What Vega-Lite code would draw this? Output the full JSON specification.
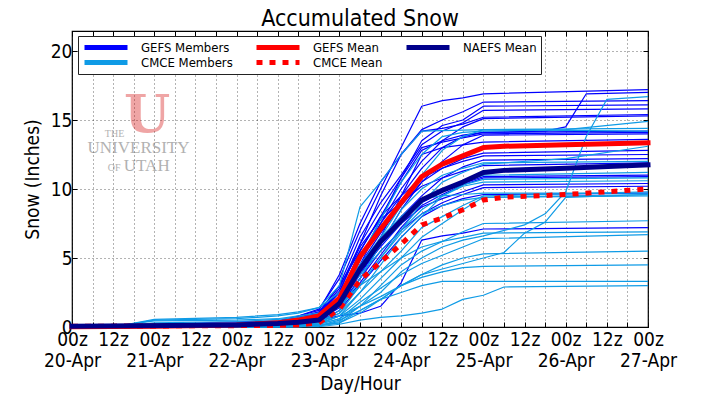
{
"$schema":"https://vega.github.io/schema/vega-lite/v6.json",
"width":576,"height":296,
"autosize":{"type":"none"},
"padding":{"left":72,"top":31,"right":58,"bottom":70},
"background":"white",
"title":{"text":"Accumulated Snow","fontSize":23,"fontWeight":"normal","color":"black","offset":0,"anchor":"middle"},
"config":{
 "font":"DejaVu Sans Condensed, DejaVu Sans",
 "view":{"stroke":"black","strokeWidth":1.2},
 "axis":{"labelFontSize":19,"titleFontSize":19,"titleFontWeight":"normal","labelColor":"black","titleColor":"black","tickColor":"black","tickSize":-5,"domain":false,"gridColor":"black","gridDash":[1,3],"gridOpacity":0.6,"labelPadding":5}
},
"datasets":{
"logo":[{"h":21.9,"v":14.1,"t":"U"},{"h":12.4,"v":13.8,"t":"THE"},{"h":19.4,"v":12.6,"t":"UNIVERSITY"},{"h":12.3,"v":11.3,"t":"OF"},{"h":21.8,"v":11.3,"t":"UTAH"}],
"d":[
{"s":"g01","k":"GEFS Members","h":0,"v":0},{"s":"g01","k":"GEFS Members","h":60,"v":0.4},{"s":"g01","k":"GEFS Members","h":66,"v":0.8},{"s":"g01","k":"GEFS Members","h":72,"v":1.3},{"s":"g01","k":"GEFS Members","h":78,"v":3.5},{"s":"g01","k":"GEFS Members","h":84,"v":7.0},{"s":"g01","k":"GEFS Members","h":90,"v":10.0},{"s":"g01","k":"GEFS Members","h":96,"v":13.0},{"s":"g01","k":"GEFS Members","h":102,"v":16.0},{"s":"g01","k":"GEFS Members","h":108,"v":16.4},{"s":"g01","k":"GEFS Members","h":114,"v":16.6},{"s":"g01","k":"GEFS Members","h":120,"v":16.9},{"s":"g01","k":"GEFS Members","h":168,"v":17.2},
{"s":"g02","k":"GEFS Members","h":0,"v":0},{"s":"g02","k":"GEFS Members","h":60,"v":0.35},{"s":"g02","k":"GEFS Members","h":66,"v":0.6},{"s":"g02","k":"GEFS Members","h":72,"v":1.0},{"s":"g02","k":"GEFS Members","h":78,"v":3.0},{"s":"g02","k":"GEFS Members","h":84,"v":5.5},{"s":"g02","k":"GEFS Members","h":90,"v":8.0},{"s":"g02","k":"GEFS Members","h":96,"v":10.5},{"s":"g02","k":"GEFS Members","h":102,"v":12.8},{"s":"g02","k":"GEFS Members","h":108,"v":13.5},{"s":"g02","k":"GEFS Members","h":114,"v":13.9},{"s":"g02","k":"GEFS Members","h":120,"v":14.1},{"s":"g02","k":"GEFS Members","h":138,"v":14.2},{"s":"g02","k":"GEFS Members","h":144,"v":14.5},{"s":"g02","k":"GEFS Members","h":150,"v":16.9},{"s":"g02","k":"GEFS Members","h":168,"v":17.0},
{"s":"g03","k":"GEFS Members","h":0,"v":0},{"s":"g03","k":"GEFS Members","h":60,"v":0.3},{"s":"g03","k":"GEFS Members","h":66,"v":0.55},{"s":"g03","k":"GEFS Members","h":72,"v":0.9},{"s":"g03","k":"GEFS Members","h":78,"v":2.5},{"s":"g03","k":"GEFS Members","h":84,"v":6.0},{"s":"g03","k":"GEFS Members","h":90,"v":9.5},{"s":"g03","k":"GEFS Members","h":96,"v":12.5},{"s":"g03","k":"GEFS Members","h":102,"v":14.3},{"s":"g03","k":"GEFS Members","h":108,"v":15.0},{"s":"g03","k":"GEFS Members","h":114,"v":15.6},{"s":"g03","k":"GEFS Members","h":120,"v":16.3},{"s":"g03","k":"GEFS Members","h":168,"v":16.4},
{"s":"g04","k":"GEFS Members","h":0,"v":0},{"s":"g04","k":"GEFS Members","h":60,"v":0.25},{"s":"g04","k":"GEFS Members","h":66,"v":0.5},{"s":"g04","k":"GEFS Members","h":72,"v":0.8},{"s":"g04","k":"GEFS Members","h":78,"v":2.2},{"s":"g04","k":"GEFS Members","h":84,"v":4.8},{"s":"g04","k":"GEFS Members","h":90,"v":7.8},{"s":"g04","k":"GEFS Members","h":96,"v":10.8},{"s":"g04","k":"GEFS Members","h":102,"v":13.5},{"s":"g04","k":"GEFS Members","h":108,"v":14.6},{"s":"g04","k":"GEFS Members","h":114,"v":15.0},{"s":"g04","k":"GEFS Members","h":120,"v":16.0},{"s":"g04","k":"GEFS Members","h":168,"v":16.1},
{"s":"g05","k":"GEFS Members","h":0,"v":0},{"s":"g05","k":"GEFS Members","h":60,"v":0.4},{"s":"g05","k":"GEFS Members","h":66,"v":0.7},{"s":"g05","k":"GEFS Members","h":72,"v":1.1},{"s":"g05","k":"GEFS Members","h":78,"v":3.0},{"s":"g05","k":"GEFS Members","h":84,"v":6.5},{"s":"g05","k":"GEFS Members","h":90,"v":9.0},{"s":"g05","k":"GEFS Members","h":96,"v":11.0},{"s":"g05","k":"GEFS Members","h":102,"v":13.2},{"s":"g05","k":"GEFS Members","h":108,"v":14.2},{"s":"g05","k":"GEFS Members","h":114,"v":14.8},{"s":"g05","k":"GEFS Members","h":120,"v":15.7},{"s":"g05","k":"GEFS Members","h":168,"v":15.8},
{"s":"g06","k":"GEFS Members","h":0,"v":0},{"s":"g06","k":"GEFS Members","h":60,"v":0.25},{"s":"g06","k":"GEFS Members","h":66,"v":0.45},{"s":"g06","k":"GEFS Members","h":72,"v":0.7},{"s":"g06","k":"GEFS Members","h":78,"v":2.0},{"s":"g06","k":"GEFS Members","h":84,"v":4.5},{"s":"g06","k":"GEFS Members","h":90,"v":7.5},{"s":"g06","k":"GEFS Members","h":96,"v":10.0},{"s":"g06","k":"GEFS Members","h":102,"v":12.0},{"s":"g06","k":"GEFS Members","h":108,"v":13.5},{"s":"g06","k":"GEFS Members","h":114,"v":14.5},{"s":"g06","k":"GEFS Members","h":120,"v":15.1},{"s":"g06","k":"GEFS Members","h":168,"v":15.3},
{"s":"g07","k":"GEFS Members","h":0,"v":0},{"s":"g07","k":"GEFS Members","h":60,"v":0.45},{"s":"g07","k":"GEFS Members","h":66,"v":0.8},{"s":"g07","k":"GEFS Members","h":72,"v":1.2},{"s":"g07","k":"GEFS Members","h":78,"v":3.8},{"s":"g07","k":"GEFS Members","h":84,"v":7.5},{"s":"g07","k":"GEFS Members","h":90,"v":10.5},{"s":"g07","k":"GEFS Members","h":96,"v":12.5},{"s":"g07","k":"GEFS Members","h":102,"v":14.2},{"s":"g07","k":"GEFS Members","h":108,"v":14.4},{"s":"g07","k":"GEFS Members","h":114,"v":14.7},{"s":"g07","k":"GEFS Members","h":120,"v":15.2},{"s":"g07","k":"GEFS Members","h":168,"v":15.4},
{"s":"g08","k":"GEFS Members","h":0,"v":0},{"s":"g08","k":"GEFS Members","h":60,"v":0.2},{"s":"g08","k":"GEFS Members","h":66,"v":0.4},{"s":"g08","k":"GEFS Members","h":72,"v":0.6},{"s":"g08","k":"GEFS Members","h":78,"v":1.8},{"s":"g08","k":"GEFS Members","h":84,"v":4.0},{"s":"g08","k":"GEFS Members","h":90,"v":6.5},{"s":"g08","k":"GEFS Members","h":96,"v":9.5},{"s":"g08","k":"GEFS Members","h":102,"v":11.5},{"s":"g08","k":"GEFS Members","h":108,"v":13.0},{"s":"g08","k":"GEFS Members","h":114,"v":13.8},{"s":"g08","k":"GEFS Members","h":120,"v":14.1},{"s":"g08","k":"GEFS Members","h":168,"v":14.2},
{"s":"g09","k":"GEFS Members","h":0,"v":0},{"s":"g09","k":"GEFS Members","h":60,"v":0.3},{"s":"g09","k":"GEFS Members","h":66,"v":0.6},{"s":"g09","k":"GEFS Members","h":72,"v":0.9},{"s":"g09","k":"GEFS Members","h":78,"v":2.8},{"s":"g09","k":"GEFS Members","h":84,"v":6.0},{"s":"g09","k":"GEFS Members","h":90,"v":8.5},{"s":"g09","k":"GEFS Members","h":96,"v":10.8},{"s":"g09","k":"GEFS Members","h":102,"v":13.0},{"s":"g09","k":"GEFS Members","h":108,"v":13.4},{"s":"g09","k":"GEFS Members","h":114,"v":13.7},{"s":"g09","k":"GEFS Members","h":120,"v":14.0},{"s":"g09","k":"GEFS Members","h":168,"v":14.1},
{"s":"g10","k":"GEFS Members","h":0,"v":0},{"s":"g10","k":"GEFS Members","h":60,"v":0.2},{"s":"g10","k":"GEFS Members","h":66,"v":0.35},{"s":"g10","k":"GEFS Members","h":72,"v":0.5},{"s":"g10","k":"GEFS Members","h":78,"v":1.5},{"s":"g10","k":"GEFS Members","h":84,"v":3.5},{"s":"g10","k":"GEFS Members","h":90,"v":6.0},{"s":"g10","k":"GEFS Members","h":96,"v":8.5},{"s":"g10","k":"GEFS Members","h":102,"v":10.5},{"s":"g10","k":"GEFS Members","h":108,"v":12.0},{"s":"g10","k":"GEFS Members","h":114,"v":13.2},{"s":"g10","k":"GEFS Members","h":120,"v":13.9},{"s":"g10","k":"GEFS Members","h":168,"v":14.0},
{"s":"g11","k":"GEFS Members","h":0,"v":0},{"s":"g11","k":"GEFS Members","h":60,"v":0.35},{"s":"g11","k":"GEFS Members","h":66,"v":0.65},{"s":"g11","k":"GEFS Members","h":72,"v":1.0},{"s":"g11","k":"GEFS Members","h":78,"v":2.5},{"s":"g11","k":"GEFS Members","h":84,"v":5.0},{"s":"g11","k":"GEFS Members","h":90,"v":7.5},{"s":"g11","k":"GEFS Members","h":96,"v":9.5},{"s":"g11","k":"GEFS Members","h":102,"v":12.5},{"s":"g11","k":"GEFS Members","h":108,"v":13.0},{"s":"g11","k":"GEFS Members","h":114,"v":13.2},{"s":"g11","k":"GEFS Members","h":120,"v":13.4},{"s":"g11","k":"GEFS Members","h":168,"v":13.6},
{"s":"g12","k":"GEFS Members","h":0,"v":0},{"s":"g12","k":"GEFS Members","h":60,"v":0.3},{"s":"g12","k":"GEFS Members","h":66,"v":0.5},{"s":"g12","k":"GEFS Members","h":72,"v":0.8},{"s":"g12","k":"GEFS Members","h":78,"v":2.0},{"s":"g12","k":"GEFS Members","h":84,"v":4.5},{"s":"g12","k":"GEFS Members","h":90,"v":6.8},{"s":"g12","k":"GEFS Members","h":96,"v":8.8},{"s":"g12","k":"GEFS Members","h":102,"v":10.5},{"s":"g12","k":"GEFS Members","h":108,"v":11.5},{"s":"g12","k":"GEFS Members","h":114,"v":12.2},{"s":"g12","k":"GEFS Members","h":120,"v":12.6},{"s":"g12","k":"GEFS Members","h":168,"v":12.8},
{"s":"g13","k":"GEFS Members","h":0,"v":0},{"s":"g13","k":"GEFS Members","h":60,"v":0.25},{"s":"g13","k":"GEFS Members","h":66,"v":0.45},{"s":"g13","k":"GEFS Members","h":72,"v":0.7},{"s":"g13","k":"GEFS Members","h":78,"v":2.2},{"s":"g13","k":"GEFS Members","h":84,"v":5.5},{"s":"g13","k":"GEFS Members","h":90,"v":8.0},{"s":"g13","k":"GEFS Members","h":96,"v":9.5},{"s":"g13","k":"GEFS Members","h":102,"v":10.8},{"s":"g13","k":"GEFS Members","h":108,"v":11.5},{"s":"g13","k":"GEFS Members","h":114,"v":12.0},{"s":"g13","k":"GEFS Members","h":120,"v":12.4},{"s":"g13","k":"GEFS Members","h":168,"v":12.5},
{"s":"g14","k":"GEFS Members","h":0,"v":0},{"s":"g14","k":"GEFS Members","h":60,"v":0.2},{"s":"g14","k":"GEFS Members","h":66,"v":0.4},{"s":"g14","k":"GEFS Members","h":72,"v":0.6},{"s":"g14","k":"GEFS Members","h":78,"v":1.6},{"s":"g14","k":"GEFS Members","h":84,"v":3.8},{"s":"g14","k":"GEFS Members","h":90,"v":6.0},{"s":"g14","k":"GEFS Members","h":96,"v":8.0},{"s":"g14","k":"GEFS Members","h":102,"v":9.5},{"s":"g14","k":"GEFS Members","h":108,"v":10.8},{"s":"g14","k":"GEFS Members","h":114,"v":11.6},{"s":"g14","k":"GEFS Members","h":120,"v":12.1},{"s":"g14","k":"GEFS Members","h":168,"v":12.2},
{"s":"g15","k":"GEFS Members","h":0,"v":0},{"s":"g15","k":"GEFS Members","h":60,"v":0.35},{"s":"g15","k":"GEFS Members","h":66,"v":0.65},{"s":"g15","k":"GEFS Members","h":72,"v":1.0},{"s":"g15","k":"GEFS Members","h":78,"v":2.6},{"s":"g15","k":"GEFS Members","h":84,"v":5.8},{"s":"g15","k":"GEFS Members","h":90,"v":7.8},{"s":"g15","k":"GEFS Members","h":96,"v":9.0},{"s":"g15","k":"GEFS Members","h":102,"v":10.2},{"s":"g15","k":"GEFS Members","h":108,"v":10.8},{"s":"g15","k":"GEFS Members","h":114,"v":11.3},{"s":"g15","k":"GEFS Members","h":120,"v":11.7},{"s":"g15","k":"GEFS Members","h":168,"v":11.9},
{"s":"g16","k":"GEFS Members","h":0,"v":0},{"s":"g16","k":"GEFS Members","h":60,"v":0.3},{"s":"g16","k":"GEFS Members","h":66,"v":0.5},{"s":"g16","k":"GEFS Members","h":72,"v":0.8},{"s":"g16","k":"GEFS Members","h":78,"v":2.0},{"s":"g16","k":"GEFS Members","h":84,"v":4.2},{"s":"g16","k":"GEFS Members","h":90,"v":6.2},{"s":"g16","k":"GEFS Members","h":96,"v":7.8},{"s":"g16","k":"GEFS Members","h":102,"v":9.0},{"s":"g16","k":"GEFS Members","h":108,"v":9.8},{"s":"g16","k":"GEFS Members","h":114,"v":10.4},{"s":"g16","k":"GEFS Members","h":120,"v":10.9},{"s":"g16","k":"GEFS Members","h":168,"v":11.0},
{"s":"g17","k":"GEFS Members","h":0,"v":0},{"s":"g17","k":"GEFS Members","h":60,"v":0.2},{"s":"g17","k":"GEFS Members","h":66,"v":0.35},{"s":"g17","k":"GEFS Members","h":72,"v":0.5},{"s":"g17","k":"GEFS Members","h":78,"v":1.4},{"s":"g17","k":"GEFS Members","h":84,"v":3.2},{"s":"g17","k":"GEFS Members","h":90,"v":5.2},{"s":"g17","k":"GEFS Members","h":96,"v":7.2},{"s":"g17","k":"GEFS Members","h":102,"v":8.8},{"s":"g17","k":"GEFS Members","h":108,"v":9.6},{"s":"g17","k":"GEFS Members","h":114,"v":10.3},{"s":"g17","k":"GEFS Members","h":120,"v":10.8},{"s":"g17","k":"GEFS Members","h":168,"v":10.9},
{"s":"g18","k":"GEFS Members","h":0,"v":0},{"s":"g18","k":"GEFS Members","h":60,"v":0.25},{"s":"g18","k":"GEFS Members","h":66,"v":0.45},{"s":"g18","k":"GEFS Members","h":72,"v":0.7},{"s":"g18","k":"GEFS Members","h":78,"v":1.8},{"s":"g18","k":"GEFS Members","h":84,"v":4.0},{"s":"g18","k":"GEFS Members","h":90,"v":5.8},{"s":"g18","k":"GEFS Members","h":96,"v":7.5},{"s":"g18","k":"GEFS Members","h":102,"v":8.7},{"s":"g18","k":"GEFS Members","h":108,"v":9.3},{"s":"g18","k":"GEFS Members","h":114,"v":9.8},{"s":"g18","k":"GEFS Members","h":120,"v":10.3},{"s":"g18","k":"GEFS Members","h":168,"v":10.4},
{"s":"g19","k":"GEFS Members","h":0,"v":0},{"s":"g19","k":"GEFS Members","h":60,"v":0.2},{"s":"g19","k":"GEFS Members","h":66,"v":0.4},{"s":"g19","k":"GEFS Members","h":72,"v":0.6},{"s":"g19","k":"GEFS Members","h":78,"v":1.5},{"s":"g19","k":"GEFS Members","h":84,"v":3.5},{"s":"g19","k":"GEFS Members","h":90,"v":5.5},{"s":"g19","k":"GEFS Members","h":96,"v":7.0},{"s":"g19","k":"GEFS Members","h":102,"v":8.2},{"s":"g19","k":"GEFS Members","h":108,"v":9.0},{"s":"g19","k":"GEFS Members","h":114,"v":9.6},{"s":"g19","k":"GEFS Members","h":120,"v":10.1},{"s":"g19","k":"GEFS Members","h":168,"v":10.2},
{"s":"g20","k":"GEFS Members","h":0,"v":0},{"s":"g20","k":"GEFS Members","h":60,"v":0.15},{"s":"g20","k":"GEFS Members","h":66,"v":0.3},{"s":"g20","k":"GEFS Members","h":72,"v":0.4},{"s":"g20","k":"GEFS Members","h":78,"v":1.2},{"s":"g20","k":"GEFS Members","h":84,"v":3.0},{"s":"g20","k":"GEFS Members","h":90,"v":4.8},{"s":"g20","k":"GEFS Members","h":96,"v":6.5},{"s":"g20","k":"GEFS Members","h":102,"v":8.0},{"s":"g20","k":"GEFS Members","h":108,"v":8.8},{"s":"g20","k":"GEFS Members","h":114,"v":9.3},{"s":"g20","k":"GEFS Members","h":120,"v":9.6},{"s":"g20","k":"GEFS Members","h":168,"v":9.7},
{"s":"g21","k":"GEFS Members","h":0,"v":0},{"s":"g21","k":"GEFS Members","h":60,"v":0.15},{"s":"g21","k":"GEFS Members","h":66,"v":0.3},{"s":"g21","k":"GEFS Members","h":72,"v":0.5},{"s":"g21","k":"GEFS Members","h":78,"v":0.8},{"s":"g21","k":"GEFS Members","h":84,"v":1.0},{"s":"g21","k":"GEFS Members","h":90,"v":1.5},{"s":"g21","k":"GEFS Members","h":96,"v":3.2},{"s":"g21","k":"GEFS Members","h":102,"v":6.3},{"s":"g21","k":"GEFS Members","h":108,"v":6.6},{"s":"g21","k":"GEFS Members","h":114,"v":6.8},{"s":"g21","k":"GEFS Members","h":120,"v":7.1},{"s":"g21","k":"GEFS Members","h":168,"v":7.2},
{"s":"c01","k":"CMCE Members","h":0,"v":0},{"s":"c01","k":"CMCE Members","h":66,"v":0.02},{"s":"c01","k":"CMCE Members","h":72,"v":0.2},{"s":"c01","k":"CMCE Members","h":78,"v":0.6},{"s":"c01","k":"CMCE Members","h":84,"v":1.5},{"s":"c01","k":"CMCE Members","h":90,"v":2.5},{"s":"c01","k":"CMCE Members","h":96,"v":4.0},{"s":"c01","k":"CMCE Members","h":102,"v":5.0},{"s":"c01","k":"CMCE Members","h":108,"v":5.8},{"s":"c01","k":"CMCE Members","h":114,"v":6.3},{"s":"c01","k":"CMCE Members","h":120,"v":6.6},{"s":"c01","k":"CMCE Members","h":132,"v":7.4},{"s":"c01","k":"CMCE Members","h":138,"v":8.2},{"s":"c01","k":"CMCE Members","h":144,"v":9.8},{"s":"c01","k":"CMCE Members","h":150,"v":13.8},{"s":"c01","k":"CMCE Members","h":156,"v":16.5},{"s":"c01","k":"CMCE Members","h":168,"v":16.7},
{"s":"c02","k":"CMCE Members","h":0,"v":0},{"s":"c02","k":"CMCE Members","h":60,"v":0.05},{"s":"c02","k":"CMCE Members","h":66,"v":0.3},{"s":"c02","k":"CMCE Members","h":72,"v":0.8},{"s":"c02","k":"CMCE Members","h":78,"v":2.2},{"s":"c02","k":"CMCE Members","h":84,"v":5.0},{"s":"c02","k":"CMCE Members","h":90,"v":7.8},{"s":"c02","k":"CMCE Members","h":96,"v":10.5},{"s":"c02","k":"CMCE Members","h":102,"v":12.5},{"s":"c02","k":"CMCE Members","h":108,"v":13.8},{"s":"c02","k":"CMCE Members","h":114,"v":14.1},{"s":"c02","k":"CMCE Members","h":120,"v":14.2},{"s":"c02","k":"CMCE Members","h":144,"v":14.3},{"s":"c02","k":"CMCE Members","h":168,"v":14.9},
{"s":"c03","k":"CMCE Members","h":0,"v":0},{"s":"c03","k":"CMCE Members","h":60,"v":0.05},{"s":"c03","k":"CMCE Members","h":66,"v":0.2},{"s":"c03","k":"CMCE Members","h":72,"v":0.5},{"s":"c03","k":"CMCE Members","h":78,"v":1.5},{"s":"c03","k":"CMCE Members","h":84,"v":4.0},{"s":"c03","k":"CMCE Members","h":90,"v":6.5},{"s":"c03","k":"CMCE Members","h":96,"v":8.8},{"s":"c03","k":"CMCE Members","h":102,"v":11.0},{"s":"c03","k":"CMCE Members","h":108,"v":12.8},{"s":"c03","k":"CMCE Members","h":114,"v":13.8},{"s":"c03","k":"CMCE Members","h":120,"v":14.3},{"s":"c03","k":"CMCE Members","h":168,"v":14.4},
{"s":"c04","k":"CMCE Members","h":0,"v":0},{"s":"c04","k":"CMCE Members","h":12,"v":0},{"s":"c04","k":"CMCE Members","h":24,"v":0.55},{"s":"c04","k":"CMCE Members","h":48,"v":0.7},{"s":"c04","k":"CMCE Members","h":60,"v":0.9},{"s":"c04","k":"CMCE Members","h":66,"v":1.1},{"s":"c04","k":"CMCE Members","h":72,"v":1.4},{"s":"c04","k":"CMCE Members","h":78,"v":3.0},{"s":"c04","k":"CMCE Members","h":84,"v":8.7},{"s":"c04","k":"CMCE Members","h":90,"v":10.5},{"s":"c04","k":"CMCE Members","h":96,"v":12.5},{"s":"c04","k":"CMCE Members","h":102,"v":14.2},{"s":"c04","k":"CMCE Members","h":120,"v":14.3},{"s":"c04","k":"CMCE Members","h":168,"v":14.2},
{"s":"c05","k":"CMCE Members","h":0,"v":0},{"s":"c05","k":"CMCE Members","h":60,"v":0.05},{"s":"c05","k":"CMCE Members","h":66,"v":0.2},{"s":"c05","k":"CMCE Members","h":72,"v":0.4},{"s":"c05","k":"CMCE Members","h":78,"v":1.0},{"s":"c05","k":"CMCE Members","h":84,"v":3.0},{"s":"c05","k":"CMCE Members","h":90,"v":5.0},{"s":"c05","k":"CMCE Members","h":96,"v":7.0},{"s":"c05","k":"CMCE Members","h":102,"v":9.0},{"s":"c05","k":"CMCE Members","h":108,"v":10.5},{"s":"c05","k":"CMCE Members","h":114,"v":11.2},{"s":"c05","k":"CMCE Members","h":120,"v":11.8},{"s":"c05","k":"CMCE Members","h":144,"v":12.2},{"s":"c05","k":"CMCE Members","h":168,"v":13.1},
{"s":"c06","k":"CMCE Members","h":0,"v":0},{"s":"c06","k":"CMCE Members","h":60,"v":0.05},{"s":"c06","k":"CMCE Members","h":66,"v":0.15},{"s":"c06","k":"CMCE Members","h":72,"v":0.3},{"s":"c06","k":"CMCE Members","h":78,"v":1.2},{"s":"c06","k":"CMCE Members","h":84,"v":3.5},{"s":"c06","k":"CMCE Members","h":90,"v":6.0},{"s":"c06","k":"CMCE Members","h":96,"v":8.5},{"s":"c06","k":"CMCE Members","h":102,"v":10.0},{"s":"c06","k":"CMCE Members","h":108,"v":11.0},{"s":"c06","k":"CMCE Members","h":114,"v":11.5},{"s":"c06","k":"CMCE Members","h":120,"v":11.9},{"s":"c06","k":"CMCE Members","h":168,"v":12.0},
{"s":"c07","k":"CMCE Members","h":0,"v":0},{"s":"c07","k":"CMCE Members","h":12,"v":0},{"s":"c07","k":"CMCE Members","h":24,"v":0.5},{"s":"c07","k":"CMCE Members","h":48,"v":0.6},{"s":"c07","k":"CMCE Members","h":60,"v":0.8},{"s":"c07","k":"CMCE Members","h":66,"v":1.0},{"s":"c07","k":"CMCE Members","h":72,"v":1.4},{"s":"c07","k":"CMCE Members","h":78,"v":2.5},{"s":"c07","k":"CMCE Members","h":84,"v":4.5},{"s":"c07","k":"CMCE Members","h":90,"v":6.0},{"s":"c07","k":"CMCE Members","h":96,"v":7.5},{"s":"c07","k":"CMCE Members","h":102,"v":9.2},{"s":"c07","k":"CMCE Members","h":108,"v":10.0},{"s":"c07","k":"CMCE Members","h":114,"v":10.5},{"s":"c07","k":"CMCE Members","h":120,"v":11.0},{"s":"c07","k":"CMCE Members","h":168,"v":11.2},
{"s":"c08","k":"CMCE Members","h":0,"v":0},{"s":"c08","k":"CMCE Members","h":66,"v":0.05},{"s":"c08","k":"CMCE Members","h":72,"v":0.2},{"s":"c08","k":"CMCE Members","h":78,"v":0.8},{"s":"c08","k":"CMCE Members","h":84,"v":2.5},{"s":"c08","k":"CMCE Members","h":90,"v":4.5},{"s":"c08","k":"CMCE Members","h":96,"v":6.5},{"s":"c08","k":"CMCE Members","h":102,"v":8.0},{"s":"c08","k":"CMCE Members","h":108,"v":9.5},{"s":"c08","k":"CMCE Members","h":114,"v":10.3},{"s":"c08","k":"CMCE Members","h":120,"v":10.7},{"s":"c08","k":"CMCE Members","h":168,"v":10.8},
{"s":"c09","k":"CMCE Members","h":0,"v":0},{"s":"c09","k":"CMCE Members","h":60,"v":0.05},{"s":"c09","k":"CMCE Members","h":66,"v":0.3},{"s":"c09","k":"CMCE Members","h":72,"v":0.6},{"s":"c09","k":"CMCE Members","h":78,"v":1.8},{"s":"c09","k":"CMCE Members","h":84,"v":3.8},{"s":"c09","k":"CMCE Members","h":90,"v":5.5},{"s":"c09","k":"CMCE Members","h":96,"v":7.0},{"s":"c09","k":"CMCE Members","h":102,"v":8.5},{"s":"c09","k":"CMCE Members","h":108,"v":9.5},{"s":"c09","k":"CMCE Members","h":114,"v":10.2},{"s":"c09","k":"CMCE Members","h":120,"v":10.5},{"s":"c09","k":"CMCE Members","h":168,"v":10.6},
{"s":"c10","k":"CMCE Members","h":0,"v":0},{"s":"c10","k":"CMCE Members","h":66,"v":0.1},{"s":"c10","k":"CMCE Members","h":72,"v":0.3},{"s":"c10","k":"CMCE Members","h":78,"v":1.0},{"s":"c10","k":"CMCE Members","h":84,"v":2.5},{"s":"c10","k":"CMCE Members","h":90,"v":4.0},{"s":"c10","k":"CMCE Members","h":96,"v":5.5},{"s":"c10","k":"CMCE Members","h":102,"v":7.2},{"s":"c10","k":"CMCE Members","h":108,"v":8.0},{"s":"c10","k":"CMCE Members","h":114,"v":8.8},{"s":"c10","k":"CMCE Members","h":120,"v":9.5},{"s":"c10","k":"CMCE Members","h":168,"v":9.8},
{"s":"c11","k":"CMCE Members","h":0,"v":0},{"s":"c11","k":"CMCE Members","h":12,"v":0.05},{"s":"c11","k":"CMCE Members","h":24,"v":0.45},{"s":"c11","k":"CMCE Members","h":48,"v":0.5},{"s":"c11","k":"CMCE Members","h":60,"v":0.6},{"s":"c11","k":"CMCE Members","h":66,"v":0.8},{"s":"c11","k":"CMCE Members","h":72,"v":1.0},{"s":"c11","k":"CMCE Members","h":78,"v":2.0},{"s":"c11","k":"CMCE Members","h":84,"v":4.5},{"s":"c11","k":"CMCE Members","h":90,"v":6.5},{"s":"c11","k":"CMCE Members","h":96,"v":8.0},{"s":"c11","k":"CMCE Members","h":102,"v":9.3},{"s":"c11","k":"CMCE Members","h":108,"v":9.5},{"s":"c11","k":"CMCE Members","h":114,"v":9.6},{"s":"c11","k":"CMCE Members","h":120,"v":9.7},{"s":"c11","k":"CMCE Members","h":168,"v":9.7},
{"s":"c12","k":"CMCE Members","h":0,"v":0},{"s":"c12","k":"CMCE Members","h":66,"v":0.05},{"s":"c12","k":"CMCE Members","h":72,"v":0.1},{"s":"c12","k":"CMCE Members","h":78,"v":0.5},{"s":"c12","k":"CMCE Members","h":84,"v":1.2},{"s":"c12","k":"CMCE Members","h":90,"v":2.0},{"s":"c12","k":"CMCE Members","h":96,"v":3.0},{"s":"c12","k":"CMCE Members","h":102,"v":3.8},{"s":"c12","k":"CMCE Members","h":108,"v":4.2},{"s":"c12","k":"CMCE Members","h":114,"v":4.6},{"s":"c12","k":"CMCE Members","h":120,"v":5.0},{"s":"c12","k":"CMCE Members","h":126,"v":5.4},{"s":"c12","k":"CMCE Members","h":132,"v":6.8},{"s":"c12","k":"CMCE Members","h":138,"v":7.6},{"s":"c12","k":"CMCE Members","h":144,"v":9.4},{"s":"c12","k":"CMCE Members","h":168,"v":9.6},
{"s":"c13","k":"CMCE Members","h":0,"v":0},{"s":"c13","k":"CMCE Members","h":66,"v":0.05},{"s":"c13","k":"CMCE Members","h":72,"v":0.2},{"s":"c13","k":"CMCE Members","h":78,"v":0.8},{"s":"c13","k":"CMCE Members","h":84,"v":2.0},{"s":"c13","k":"CMCE Members","h":90,"v":3.5},{"s":"c13","k":"CMCE Members","h":96,"v":5.0},{"s":"c13","k":"CMCE Members","h":102,"v":6.5},{"s":"c13","k":"CMCE Members","h":108,"v":7.5},{"s":"c13","k":"CMCE Members","h":114,"v":8.5},{"s":"c13","k":"CMCE Members","h":120,"v":9.4},{"s":"c13","k":"CMCE Members","h":168,"v":9.6},
{"s":"c14","k":"CMCE Members","h":0,"v":0},{"s":"c14","k":"CMCE Members","h":12,"v":0},{"s":"c14","k":"CMCE Members","h":24,"v":0.2},{"s":"c14","k":"CMCE Members","h":48,"v":0.3},{"s":"c14","k":"CMCE Members","h":60,"v":0.45},{"s":"c14","k":"CMCE Members","h":66,"v":0.55},{"s":"c14","k":"CMCE Members","h":72,"v":0.7},{"s":"c14","k":"CMCE Members","h":78,"v":1.5},{"s":"c14","k":"CMCE Members","h":84,"v":3.0},{"s":"c14","k":"CMCE Members","h":90,"v":5.0},{"s":"c14","k":"CMCE Members","h":96,"v":6.8},{"s":"c14","k":"CMCE Members","h":102,"v":8.2},{"s":"c14","k":"CMCE Members","h":108,"v":8.8},{"s":"c14","k":"CMCE Members","h":114,"v":9.2},{"s":"c14","k":"CMCE Members","h":120,"v":9.4},{"s":"c14","k":"CMCE Members","h":168,"v":9.5},
{"s":"c15","k":"CMCE Members","h":0,"v":0},{"s":"c15","k":"CMCE Members","h":66,"v":0.05},{"s":"c15","k":"CMCE Members","h":72,"v":0.1},{"s":"c15","k":"CMCE Members","h":78,"v":0.4},{"s":"c15","k":"CMCE Members","h":84,"v":1.5},{"s":"c15","k":"CMCE Members","h":90,"v":3.0},{"s":"c15","k":"CMCE Members","h":96,"v":4.5},{"s":"c15","k":"CMCE Members","h":102,"v":5.5},{"s":"c15","k":"CMCE Members","h":108,"v":6.2},{"s":"c15","k":"CMCE Members","h":114,"v":6.9},{"s":"c15","k":"CMCE Members","h":120,"v":7.5},{"s":"c15","k":"CMCE Members","h":168,"v":7.7},
{"s":"c16","k":"CMCE Members","h":0,"v":0},{"s":"c16","k":"CMCE Members","h":12,"v":0},{"s":"c16","k":"CMCE Members","h":24,"v":0.3},{"s":"c16","k":"CMCE Members","h":48,"v":0.4},{"s":"c16","k":"CMCE Members","h":60,"v":0.55},{"s":"c16","k":"CMCE Members","h":66,"v":0.7},{"s":"c16","k":"CMCE Members","h":72,"v":0.9},{"s":"c16","k":"CMCE Members","h":78,"v":1.6},{"s":"c16","k":"CMCE Members","h":84,"v":3.0},{"s":"c16","k":"CMCE Members","h":90,"v":4.0},{"s":"c16","k":"CMCE Members","h":96,"v":5.0},{"s":"c16","k":"CMCE Members","h":102,"v":5.8},{"s":"c16","k":"CMCE Members","h":108,"v":6.2},{"s":"c16","k":"CMCE Members","h":114,"v":6.5},{"s":"c16","k":"CMCE Members","h":120,"v":6.8},{"s":"c16","k":"CMCE Members","h":168,"v":6.9},
{"s":"c17","k":"CMCE Members","h":0,"v":0},{"s":"c17","k":"CMCE Members","h":66,"v":0.05},{"s":"c17","k":"CMCE Members","h":72,"v":0.2},{"s":"c17","k":"CMCE Members","h":78,"v":0.6},{"s":"c17","k":"CMCE Members","h":84,"v":1.8},{"s":"c17","k":"CMCE Members","h":90,"v":2.8},{"s":"c17","k":"CMCE Members","h":96,"v":3.8},{"s":"c17","k":"CMCE Members","h":102,"v":4.6},{"s":"c17","k":"CMCE Members","h":108,"v":5.2},{"s":"c17","k":"CMCE Members","h":114,"v":5.8},{"s":"c17","k":"CMCE Members","h":120,"v":6.4},{"s":"c17","k":"CMCE Members","h":168,"v":6.7},
{"s":"c18","k":"CMCE Members","h":0,"v":0},{"s":"c18","k":"CMCE Members","h":66,"v":0.02},{"s":"c18","k":"CMCE Members","h":72,"v":0.1},{"s":"c18","k":"CMCE Members","h":78,"v":0.3},{"s":"c18","k":"CMCE Members","h":84,"v":1.0},{"s":"c18","k":"CMCE Members","h":90,"v":2.0},{"s":"c18","k":"CMCE Members","h":96,"v":3.0},{"s":"c18","k":"CMCE Members","h":102,"v":3.8},{"s":"c18","k":"CMCE Members","h":108,"v":4.5},{"s":"c18","k":"CMCE Members","h":114,"v":5.0},{"s":"c18","k":"CMCE Members","h":120,"v":5.3},{"s":"c18","k":"CMCE Members","h":168,"v":5.5},
{"s":"c19","k":"CMCE Members","h":0,"v":0},{"s":"c19","k":"CMCE Members","h":60,"v":0.05},{"s":"c19","k":"CMCE Members","h":66,"v":0.15},{"s":"c19","k":"CMCE Members","h":72,"v":0.3},{"s":"c19","k":"CMCE Members","h":78,"v":0.8},{"s":"c19","k":"CMCE Members","h":84,"v":1.5},{"s":"c19","k":"CMCE Members","h":90,"v":2.2},{"s":"c19","k":"CMCE Members","h":96,"v":3.0},{"s":"c19","k":"CMCE Members","h":102,"v":3.6},{"s":"c19","k":"CMCE Members","h":108,"v":4.0},{"s":"c19","k":"CMCE Members","h":114,"v":4.3},{"s":"c19","k":"CMCE Members","h":120,"v":4.4},{"s":"c19","k":"CMCE Members","h":168,"v":4.5},
{"s":"c20","k":"CMCE Members","h":0,"v":0},{"s":"c20","k":"CMCE Members","h":66,"v":0.02},{"s":"c20","k":"CMCE Members","h":72,"v":0.1},{"s":"c20","k":"CMCE Members","h":78,"v":0.3},{"s":"c20","k":"CMCE Members","h":84,"v":1.2},{"s":"c20","k":"CMCE Members","h":90,"v":2.0},{"s":"c20","k":"CMCE Members","h":96,"v":2.5},{"s":"c20","k":"CMCE Members","h":102,"v":3.0},{"s":"c20","k":"CMCE Members","h":108,"v":3.3},{"s":"c20","k":"CMCE Members","h":168,"v":3.3},
{"s":"c21","k":"CMCE Members","h":0,"v":0},{"s":"c21","k":"CMCE Members","h":72,"v":0.02},{"s":"c21","k":"CMCE Members","h":78,"v":0.2},{"s":"c21","k":"CMCE Members","h":84,"v":0.5},{"s":"c21","k":"CMCE Members","h":90,"v":0.7},{"s":"c21","k":"CMCE Members","h":96,"v":0.8},{"s":"c21","k":"CMCE Members","h":102,"v":1.0},{"s":"c21","k":"CMCE Members","h":108,"v":1.3},{"s":"c21","k":"CMCE Members","h":114,"v":2.0},{"s":"c21","k":"CMCE Members","h":120,"v":2.3},{"s":"c21","k":"CMCE Members","h":126,"v":2.9},{"s":"c21","k":"CMCE Members","h":168,"v":3.0},
{"s":"gm","k":"GEFS Mean","h":0,"v":0.02},{"s":"gm","k":"GEFS Mean","h":24,"v":0.05},{"s":"gm","k":"GEFS Mean","h":48,"v":0.15},{"s":"gm","k":"GEFS Mean","h":60,"v":0.3},{"s":"gm","k":"GEFS Mean","h":66,"v":0.5},{"s":"gm","k":"GEFS Mean","h":72,"v":0.8},{"s":"gm","k":"GEFS Mean","h":78,"v":2.1},{"s":"gm","k":"GEFS Mean","h":84,"v":5.1},{"s":"gm","k":"GEFS Mean","h":90,"v":7.1},{"s":"gm","k":"GEFS Mean","h":96,"v":9.0},{"s":"gm","k":"GEFS Mean","h":102,"v":10.9},{"s":"gm","k":"GEFS Mean","h":108,"v":11.8},{"s":"gm","k":"GEFS Mean","h":114,"v":12.4},{"s":"gm","k":"GEFS Mean","h":120,"v":13.0},{"s":"gm","k":"GEFS Mean","h":126,"v":13.1},{"s":"gm","k":"GEFS Mean","h":144,"v":13.2},{"s":"gm","k":"GEFS Mean","h":168,"v":13.35},
{"s":"cm","k":"CMCE Mean","h":0,"v":0.05},{"s":"cm","k":"CMCE Mean","h":48,"v":0.1},{"s":"cm","k":"CMCE Mean","h":60,"v":0.12},{"s":"cm","k":"CMCE Mean","h":66,"v":0.15},{"s":"cm","k":"CMCE Mean","h":72,"v":0.3},{"s":"cm","k":"CMCE Mean","h":78,"v":1.3},{"s":"cm","k":"CMCE Mean","h":84,"v":3.4},{"s":"cm","k":"CMCE Mean","h":90,"v":4.7},{"s":"cm","k":"CMCE Mean","h":96,"v":6.0},{"s":"cm","k":"CMCE Mean","h":102,"v":7.4},{"s":"cm","k":"CMCE Mean","h":108,"v":7.9},{"s":"cm","k":"CMCE Mean","h":114,"v":8.5},{"s":"cm","k":"CMCE Mean","h":120,"v":9.2},{"s":"cm","k":"CMCE Mean","h":126,"v":9.4},{"s":"cm","k":"CMCE Mean","h":144,"v":9.6},{"s":"cm","k":"CMCE Mean","h":168,"v":10.0},
{"s":"nm","k":"NAEFS Mean","h":0,"v":0.05},{"s":"nm","k":"NAEFS Mean","h":48,"v":0.15},{"s":"nm","k":"NAEFS Mean","h":60,"v":0.25},{"s":"nm","k":"NAEFS Mean","h":66,"v":0.35},{"s":"nm","k":"NAEFS Mean","h":72,"v":0.5},{"s":"nm","k":"NAEFS Mean","h":78,"v":1.7},{"s":"nm","k":"NAEFS Mean","h":84,"v":4.2},{"s":"nm","k":"NAEFS Mean","h":90,"v":6.2},{"s":"nm","k":"NAEFS Mean","h":96,"v":7.7},{"s":"nm","k":"NAEFS Mean","h":102,"v":9.2},{"s":"nm","k":"NAEFS Mean","h":108,"v":9.9},{"s":"nm","k":"NAEFS Mean","h":114,"v":10.5},{"s":"nm","k":"NAEFS Mean","h":120,"v":11.2},{"s":"nm","k":"NAEFS Mean","h":126,"v":11.35},{"s":"nm","k":"NAEFS Mean","h":144,"v":11.5},{"s":"nm","k":"NAEFS Mean","h":168,"v":11.75}
]},
"encoding":{
 "x":{"field":"h","type":"quantitative","scale":{"domain":[0,168],"nice":false,"zero":false},"axis":null},
 "y":{"field":"v","type":"quantitative","scale":{"domain":[0,21.45],"nice":false},"axis":null}
},
"layer":[
 {"data":{"name":"logo"},"transform":[{"filter":"datum.t=='U'"}],"mark":{"type":"text","font":"DejaVu Serif","fontWeight":"bold","fontSize":53,"color":"#d40000","opacity":0.35,"baseline":"alphabetic","align":"center"},"encoding":{"text":{"field":"t"}}},
 {"data":{"name":"logo"},"transform":[{"filter":"datum.t=='THE' || datum.t=='OF'"}],"mark":{"type":"text","font":"Liberation Serif","fontSize":10,"color":"#666666","opacity":0.5,"baseline":"alphabetic","align":"center"},"encoding":{"text":{"field":"t"}}},
 {"data":{"name":"logo"},"transform":[{"filter":"datum.t=='UNIVERSITY' || datum.t=='UTAH'"}],"mark":{"type":"text","font":"Liberation Serif","fontSize":17,"color":"#666666","opacity":0.5,"baseline":"alphabetic","align":"center"},"encoding":{"text":{"field":"t"}}},
 {"data":{"name":"d"},"transform":[{"filter":"datum.k=='GEFS Members'"}],"mark":{"type":"line","strokeWidth":1.2,"strokeJoin":"round"},
  "encoding":{
   "x":{"field":"h","type":"quantitative","scale":{"domain":[0,168],"nice":false,"zero":false},
    "axis":{"values":[0,6,12,18,24,30,36,42,48,54,60,66,72,78,84,90,96,102,108,114,120,126,132,138,144,150,156,162,168],"title":"Day/Hour","labelExpr":"datum.value % 24 == 0 ? ['00z', ['20-Apr','21-Apr','22-Apr','23-Apr','24-Apr','25-Apr','26-Apr','27-Apr'][datum.value/24]] : (datum.value % 12 == 0 ? '12z' : '')","labelOverlap":false,"labelFlush":false,"labelBound":false,"labelLineHeight":21,"labelAngle":0,"grid":true,"labelPadding":8,"titlePadding":4}},
   "y":{"field":"v","type":"quantitative","scale":{"domain":[0,21.45],"nice":false},
    "axis":{"values":[0,5,10,15,20],"title":"Snow (Inches)","grid":true,"titlePadding":8}},
   "detail":{"field":"s"},
   "color":{"field":"k","type":"nominal","scale":{"domain":["GEFS Members","CMCE Members","GEFS Mean","CMCE Mean","NAEFS Mean"],"range":["#0000ff","#0f9be6","#ff0000","#ff0000","#00008b"]},
    "legend":{"title":null,"orient":"none","legendX":6,"legendY":5,"columns":3,"symbolType":"stroke","symbolStrokeWidth":5,"symbolSize":1849,"clipHeight":15,"labelFontSize":13,"labelOffset":11,"columnPadding":21,"rowPadding":0,"padding":4,"strokeColor":"#222222","fillColor":"white","labelColor":"black","labelLimit":200}}
  }},
 {"data":{"name":"d"},"transform":[{"filter":"datum.k=='CMCE Members'"}],"mark":{"type":"line","strokeWidth":1.2,"strokeJoin":"round"},
  "encoding":{"detail":{"field":"s"},"color":{"field":"k","type":"nominal"}}},
 {"data":{"name":"d"},"transform":[{"filter":"datum.k=='GEFS Mean'"}],"mark":{"type":"line","strokeWidth":5,"strokeJoin":"round","strokeCap":"square"},
  "encoding":{"color":{"field":"k","type":"nominal"}}},
 {"data":{"name":"d"},"transform":[{"filter":"datum.k=='CMCE Mean'"}],"mark":{"type":"line","strokeWidth":5,"strokeCap":"butt"},
  "encoding":{"color":{"field":"k","type":"nominal"},"strokeDash":{"field":"k","type":"nominal","scale":{"domain":["GEFS Members","CMCE Members","GEFS Mean","CMCE Mean","NAEFS Mean"],"range":[[1,0],[1,0],[1,0],[6,7],[1,0]]},"legend":{"title":null}}}},
 {"data":{"name":"d"},"transform":[{"filter":"datum.k=='NAEFS Mean'"}],"mark":{"type":"line","strokeWidth":5,"strokeJoin":"round","strokeCap":"square"},
  "encoding":{
   "x":{"field":"h","type":"quantitative","scale":{"domain":[0,168],"nice":false,"zero":false},"axis":{"orient":"top","values":[0,6,12,18,24,30,36,42,48,54,60,66,72,78,84,90,96,102,108,114,120,126,132,138,144,150,156,162,168],"labels":false,"title":null,"grid":false}},
   "y":{"field":"v","type":"quantitative","scale":{"domain":[0,21.45],"nice":false},"axis":{"orient":"right","values":[0,5,10,15,20],"labels":false,"title":null,"grid":false}},
   "color":{"field":"k","type":"nominal"}}}
],
"resolve":{"axis":{"x":"independent","y":"independent"}}
}
